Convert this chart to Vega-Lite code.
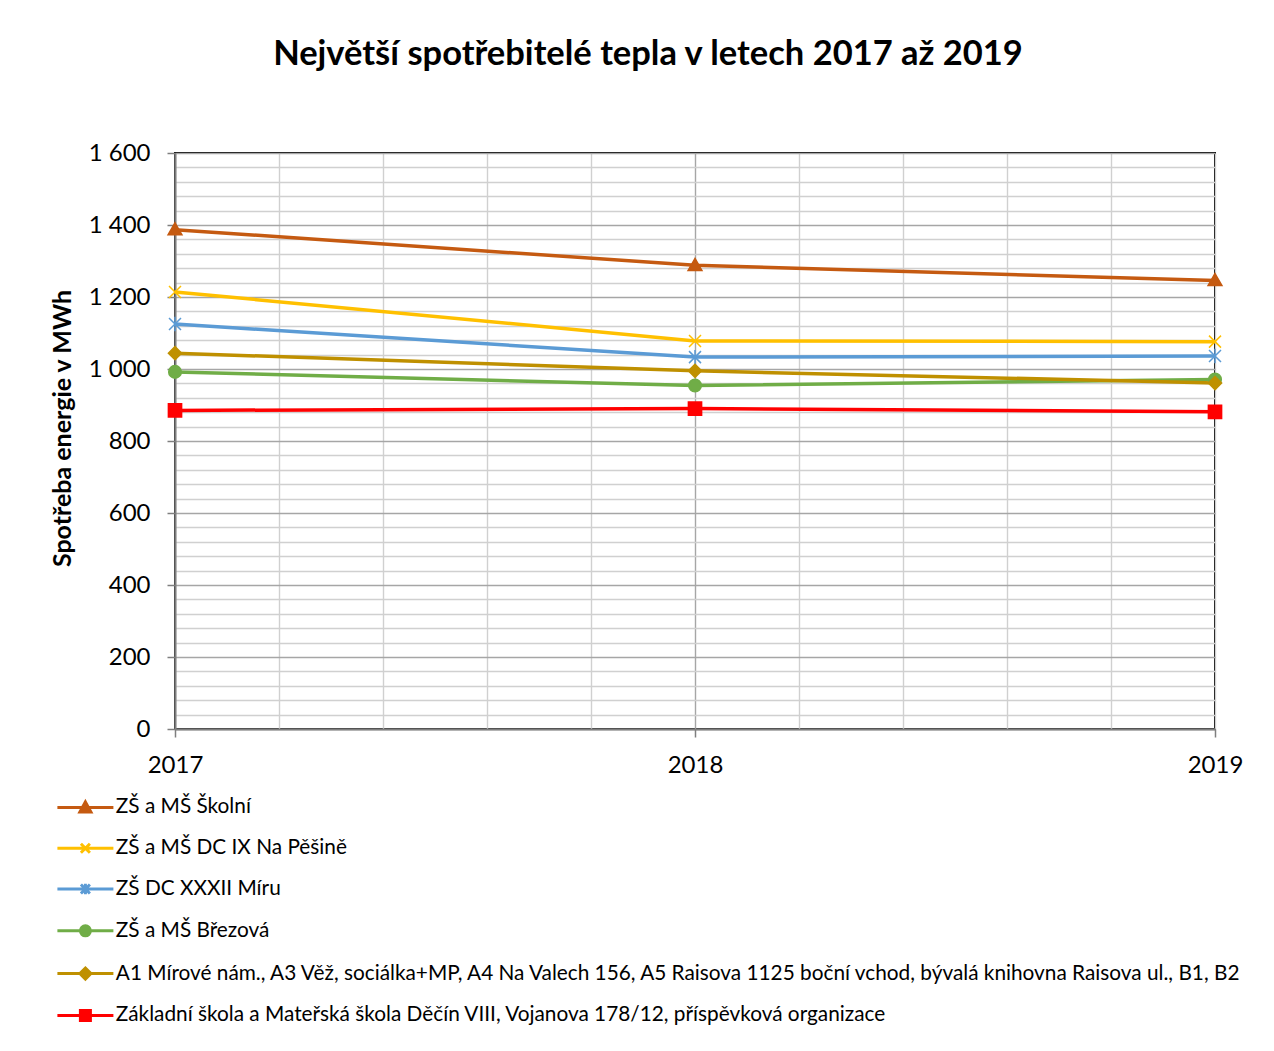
{
  "$schema": "https://vega.github.io/schema/vega-lite/v6.json",
  "autosize": {"type": "none"},
  "padding": {"left": 175, "top": 153, "right": 59, "bottom": 322},
  "width": 1040,
  "height": 576,
  "background": "white",
  "config": {
    "font": "Lato",
    "view": {"stroke": "#000000", "strokeWidth": 2}
  },
  "title": {
    "text": "Největší spotřebitelé tepla v letech 2017 až 2019",
    "font": "Lato",
    "fontSize": 34.5,
    "fontWeight": "bold",
    "color": "#000000",
    "anchor": "middle",
    "frame": "group",
    "dx": -47,
    "offset": 69
  },
  "data": {
    "values": [
      {"year": 2017, "series": "ZŠ a MŠ Školní", "value": 1387},
      {"year": 2018, "series": "ZŠ a MŠ Školní", "value": 1288},
      {"year": 2019, "series": "ZŠ a MŠ Školní", "value": 1246},
      {"year": 2017, "series": "ZŠ a MŠ DC IX Na Pěšině", "value": 1214},
      {"year": 2018, "series": "ZŠ a MŠ DC IX Na Pěšině", "value": 1078},
      {"year": 2019, "series": "ZŠ a MŠ DC IX Na Pěšině", "value": 1076},
      {"year": 2017, "series": "ZŠ DC XXXII Míru", "value": 1125},
      {"year": 2018, "series": "ZŠ DC XXXII Míru", "value": 1033},
      {"year": 2019, "series": "ZŠ DC XXXII Míru", "value": 1036},
      {"year": 2017, "series": "ZŠ a MŠ Březová", "value": 992},
      {"year": 2018, "series": "ZŠ a MŠ Březová", "value": 954},
      {"year": 2019, "series": "ZŠ a MŠ Březová", "value": 971},
      {"year": 2017, "series": "A1 Mírové nám., A3 Věž, sociálka+MP, A4 Na Valech 156, A5 Raisova 1125 boční vchod, bývalá knihovna Raisova ul., B1, B2", "value": 1044},
      {"year": 2018, "series": "A1 Mírové nám., A3 Věž, sociálka+MP, A4 Na Valech 156, A5 Raisova 1125 boční vchod, bývalá knihovna Raisova ul., B1, B2", "value": 995},
      {"year": 2019, "series": "A1 Mírové nám., A3 Věž, sociálka+MP, A4 Na Valech 156, A5 Raisova 1125 boční vchod, bývalá knihovna Raisova ul., B1, B2", "value": 961},
      {"year": 2017, "series": "Základní škola a Mateřská škola Děčín VIII, Vojanova 178/12, příspěvková organizace", "value": 885},
      {"year": 2018, "series": "Základní škola a Mateřská škola Děčín VIII, Vojanova 178/12, příspěvková organizace", "value": 890},
      {"year": 2019, "series": "Základní škola a Mateřská škola Děčín VIII, Vojanova 178/12, příspěvková organizace", "value": 881}
    ]
  },
  "encoding": {
    "x": {
      "field": "year", "type": "quantitative",
      "scale": {"domain": [2017, 2019], "nice": false, "zero": false},
      "axis": {
        "orient": "bottom",
        "values": [2017, 2017.2, 2017.4, 2017.6, 2017.8, 2018, 2018.2, 2018.4, 2018.6, 2018.8, 2019],
        "labelExpr": "(datum.value == 2017 || datum.value == 2018 || datum.value == 2019) ? format(datum.value, 'd') : ''",
        "grid": true,
        "gridColor": {"condition": {"test": "datum.value == 2018", "value": "#a6a6a6"}, "value": "#d0d0d0"},
        "gridWidth": 1.4,
        "domainColor": "#7f7f7f", "domainWidth": 2,
        "tickColor": {"condition": {"test": "datum.value == 2017 || datum.value == 2018 || datum.value == 2019", "value": "#7f7f7f"}, "value": "transparent"},
        "tickWidth": 1.5, "tickSize": 8,
        "labelFont": "Lato", "labelFontSize": 24, "labelColor": "#000000",
        "labelPadding": 16, "labelFlush": false, "labelOverlap": false, "labelBound": false,
        "title": null
      }
    },
    "y": {
      "field": "value", "type": "quantitative",
      "scale": {"domain": [0, 1600], "nice": false},
      "axis": {
        "orient": "left",
        "values": [0, 40, 80, 120, 160, 200, 240, 280, 320, 360, 400, 440, 480, 520, 560, 600, 640, 680, 720, 760, 800, 840, 880, 920, 960, 1000, 1040, 1080, 1120, 1160, 1200, 1240, 1280, 1320, 1360, 1400, 1440, 1480, 1520, 1560, 1600],
        "labelExpr": "datum.value % 200 == 0 ? replace(format(datum.value, ','), ',', ' ') : ''",
        "grid": true,
        "gridColor": {"condition": {"test": "datum.value % 200 == 0", "value": "#a6a6a6"}, "value": "#d0d0d0"},
        "gridWidth": 1.4,
        "domainColor": "#7f7f7f", "domainWidth": 2,
        "tickColor": {"condition": {"test": "datum.value % 200 == 0", "value": "#7f7f7f"}, "value": "transparent"},
        "tickWidth": 1.5, "tickSize": 8,
        "labelFont": "Lato", "labelFontSize": 24, "labelColor": "#000000",
        "labelPadding": 17, "labelOverlap": false,
        "title": "Spotřeba energie v MWh",
        "titleFont": "Lato", "titleFontSize": 25, "titleFontWeight": "bold", "titleColor": "#000000",
        "titleX": -113, "titleY": 275, "titleAngle": -90, "titleAlign": "center", "titleBaseline": "middle"
      }
    },
    "color": {
      "field": "series", "type": "nominal",
      "scale": {
        "domain": [
          "ZŠ a MŠ Školní",
          "ZŠ a MŠ DC IX Na Pěšině",
          "ZŠ DC XXXII Míru",
          "ZŠ a MŠ Březová",
          "A1 Mírové nám., A3 Věž, sociálka+MP, A4 Na Valech 156, A5 Raisova 1125 boční vchod, bývalá knihovna Raisova ul., B1, B2",
          "Základní škola a Mateřská škola Děčín VIII, Vojanova 178/12, příspěvková organizace"
        ],
        "range": ["#C55A11", "#FFC000", "#5B9BD5", "#70AD47", "#BF9000", "#FF0000"]
      },
      "legend": {
        "orient": "none",
        "legendX": -100,
        "legendY": 644,
        "direction": "vertical",
        "title": null,
        "padding": 0,
        "symbolSize": 100,
        "symbolStrokeWidth": 3,
        "labelFont": "Lato",
        "labelFontSize": 20.8,
        "labelColor": "#000000",
        "labelOffset": 20,
        "labelLimit": 1300,
        "rowPadding": 18.8,
        "encode": {
          "symbols": {
            "update": {
              "shape": {"signal": "['M-5.6,0H5.6M0,-1.1L1.1,0.9L-1.1,0.9Z', 'M-5.6,0H5.6M-0.9,-0.9L0.9,0.9M-0.9,0.9L0.9,-0.9', 'M-5.6,0H5.6M-0.9,-0.9L0.9,0.9M-0.9,0.9L0.9,-0.9M0,-1.05V1.05', 'M-5.6,0H5.6M-1,0A1,1 0 1,0 1,0A1,1 0 1,0 -1,0Z', 'M-5.6,0H5.6M0,-1.1L1.1,0L0,1.1L-1.1,0Z', 'M-5.6,0H5.6M-1,-1H1V1H-1Z'][datum.index]"},
              "fill": {"signal": "scale('color', datum.value)"},
              "stroke": {"signal": "scale('color', datum.value)"},
              "strokeWidth": {"value": 3},
              "opacity": {"value": 1}
            }
          }
        }
      }
    }
  },
  "layer": [
    {
      "mark": {"type": "line", "strokeWidth": 3.5}
    },
    {
      "mark": {
        "type": "point", "filled": true, "size": 144, "strokeWidth": 1.5, "opacity": 1,
        "stroke": {"expr": "scale('color', datum.series)"},
        "shape": {"expr": "['M0,-1.15L1.15,0.85L-1.15,0.85Z', 'M-1,-1L1,1M-1,1L1,-1', 'M-1,-1L1,1M-1,1L1,-1M0,-1.2V1.2', 'M-1.05,0A1.05,1.05 0 1,0 1.05,0A1.05,1.05 0 1,0 -1.05,0Z', 'M0,-1.1L1.1,0L0,1.1L-1.1,0Z', 'M-1.1,-1.1H1.1V1.1H-1.1Z'][indexof(domain('color'), datum.series)]"}
      }
    }
  ]
}
